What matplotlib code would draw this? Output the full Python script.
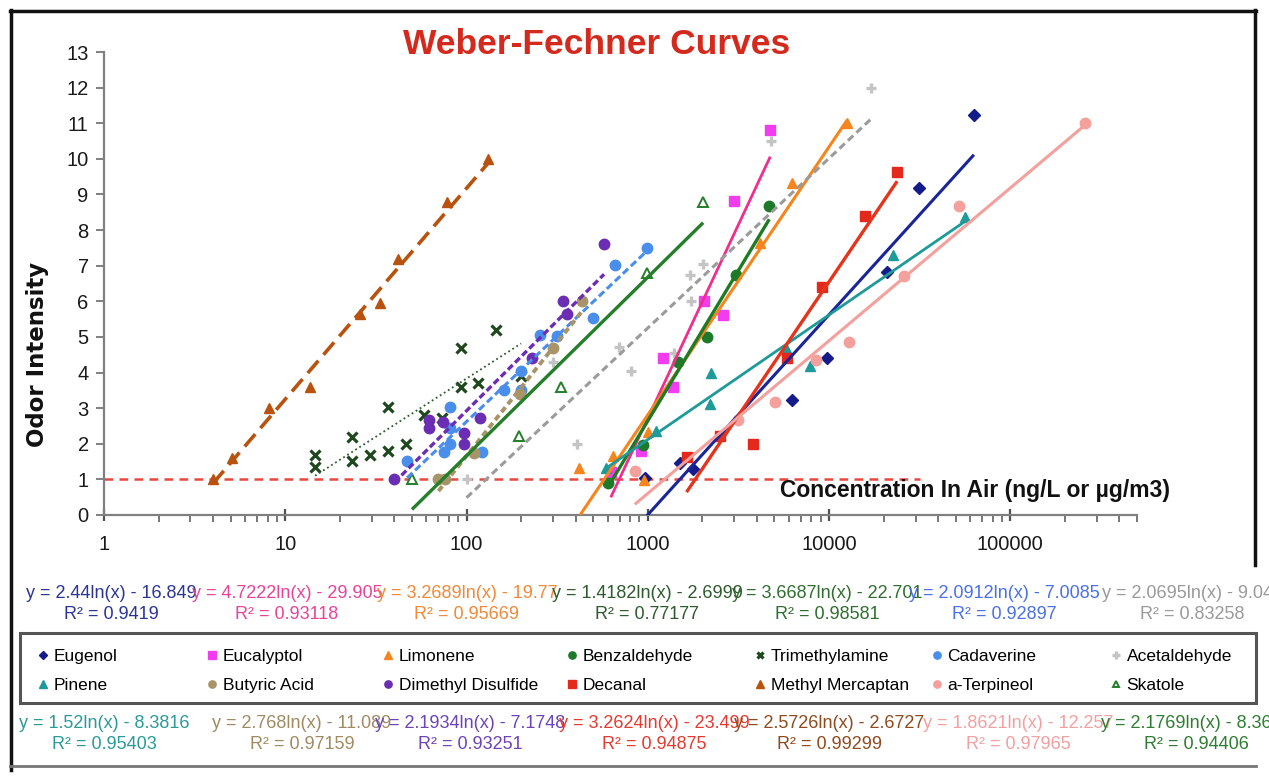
import numpy as np
import matplotlib
matplotlib.use('Agg')
import matplotlib.pyplot as plt
from matplotlib.lines import Line2D
from matplotlib.patches import Rectangle
from matplotlib.ticker import NullFormatter, LogLocator

plt.rcParams['font.family'] = ['Liberation Sans', 'DejaVu Sans']

W, H = 1269, 783

# ---- data (concentration, odor intensity) ----
eugenol_x = [962, 1510, 1766, 6220, 9750, 20830, 31550, 63000]
eugenol_y = [1.03, 1.47, 1.29, 3.23, 4.42, 6.81, 9.19, 11.24]
eucalyptol_x = [625, 915, 1220, 1380, 2030, 2590, 3000, 4740]
eucalyptol_y = [1.2, 1.8, 4.42, 3.6, 6.0, 5.62, 8.82, 10.8]
limonene_x = [417, 646, 955, 1009, 4170, 6220, 12590]
limonene_y = [1.33, 1.66, 0.98, 2.34, 7.63, 9.33, 11.0]
benzaldehyde_x = [604, 946, 1460, 2118, 3060, 4680]
benzaldehyde_y = [0.9, 1.97, 4.3, 5.0, 6.74, 8.68]
trimethylamine_x = [14.6, 14.6, 23.2, 23.2, 29.2, 36.7, 36.7, 46.4, 58.1, 73.4, 92.7, 92.7, 115, 146, 200]
trimethylamine_y = [1.69, 1.36, 2.2, 1.52, 1.69, 3.04, 1.81, 1.99, 2.81, 2.72, 4.68, 3.59, 3.7, 5.2, 3.9]
cadaverine_x = [47, 75, 81, 81, 81, 122, 162, 199, 200, 254, 317, 501, 660, 996]
cadaverine_y = [1.53, 1.76, 2.0, 2.44, 3.02, 1.76, 3.5, 3.5, 4.03, 5.05, 5.03, 5.52, 7.03, 7.5]
acetaldehyde_x = [100, 301, 409, 694, 805, 1400, 1700, 1730, 2005, 4800, 17000]
acetaldehyde_y = [1.0, 4.3, 2.0, 4.73, 4.03, 4.55, 6.74, 6.0, 7.05, 10.5, 12.0]
pinene_x = [586, 1107, 2200, 2230, 5800, 7890, 22500, 56000]
pinene_y = [1.31, 2.36, 3.12, 4.0, 4.7, 4.19, 7.3, 8.36]
butyric_x = [70, 76, 110, 197, 300, 436]
butyric_y = [1.0, 1.02, 1.73, 3.4, 4.7, 6.0]
dimethyl_x = [40, 62, 62, 74, 97, 97, 118, 231, 342, 360, 574]
dimethyl_y = [1.0, 2.67, 2.43, 2.62, 2.29, 1.99, 2.72, 4.4, 6.0, 5.65, 7.6]
decanal_x = [1636, 2500, 3790, 5860, 9120, 15850, 23760]
decanal_y = [1.64, 2.22, 2.0, 4.4, 6.41, 8.4, 9.63]
methyl_x = [4, 5.1, 8.1, 13.7, 26, 33.5, 42, 78, 132]
methyl_y = [1.0, 1.6, 3.0, 3.6, 5.65, 5.95, 7.2, 8.8, 10.0]
terpineol_x = [848, 3130, 5030, 8480, 12950, 25860, 52100, 257000]
terpineol_y = [1.24, 2.67, 3.18, 4.35, 4.87, 6.71, 8.68, 11.0]
skatole_x = [50, 196, 331, 996, 2020]
skatole_y = [1.0, 2.23, 3.6, 6.8, 8.8]

threshold_x = [1, 31600]
threshold_y = [1, 1]

# trendline coefficients y = a*ln(x) + b and R^2 shown on the chart
slopes = {'Eugenol': 2.44, 'Eucalyptol': 4.7222, 'Limonene': 3.2689, 'Benzaldehyde': 3.6687,
          'Trimethylamine': 1.4182, 'Cadaverine': 2.0912, 'Acetaldehyde': 2.0695, 'Pinene': 1.52,
          'Butyric Acid': 2.768, 'Dimethyl Disulfide': 2.1934, 'Decanal': 3.2624,
          'Methyl Mercaptan': 2.5726, 'a-Terpineol': 1.8621, 'Skatole': 2.1769}
intercepts = {'Eugenol': -16.849, 'Eucalyptol': -29.905, 'Limonene': -19.77, 'Benzaldehyde': -22.701,
              'Trimethylamine': -2.6999, 'Cadaverine': -7.0085, 'Acetaldehyde': -9.045, 'Pinene': -8.3816,
              'Butyric Acid': -11.089, 'Dimethyl Disulfide': -7.1748, 'Decanal': -23.499,
              'Methyl Mercaptan': -2.6727, 'a-Terpineol': -12.257, 'Skatole': -8.3608}
r_squared = {'Eugenol': 0.9419, 'Eucalyptol': 0.93118, 'Limonene': 0.95669, 'Benzaldehyde': 0.98581,
             'Trimethylamine': 0.77177, 'Cadaverine': 0.92897, 'Acetaldehyde': 0.83258, 'Pinene': 0.95403,
             'Butyric Acid': 0.97159, 'Dimethyl Disulfide': 0.93251, 'Decanal': 0.94875,
             'Methyl Mercaptan': 0.99299, 'a-Terpineol': 0.97965, 'Skatole': 0.94406}

eq_row_top = ['Eugenol', 'Eucalyptol', 'Limonene', 'Trimethylamine', 'Benzaldehyde', 'Cadaverine', 'Acetaldehyde']
eq_row_bottom = ['Pinene', 'Butyric Acid', 'Dimethyl Disulfide', 'Decanal', 'Methyl Mercaptan', 'a-Terpineol', 'Skatole']
legend_row1 = ['Eugenol', 'Eucalyptol', 'Limonene', 'Benzaldehyde', 'Trimethylamine', 'Cadaverine', 'Acetaldehyde']
legend_row2 = ['Pinene', 'Butyric Acid', 'Dimethyl Disulfide', 'Decanal', 'Methyl Mercaptan', 'a-Terpineol', 'Skatole']
x_ticks = [1, 10, 100, 1000, 10000, 100000]
x_ticklabels = ['1', '10', '100', '1000', '10000', '100000']

# name: (x, y, marker, marker colour, line colour, line style, line width, eq text colour)
series = {
    'Eugenol': (eugenol_x, eugenol_y, 'D', '#141c8a', '#1a2598', '-', 2.2, '#2a3596'),
    'Eucalyptol': (eucalyptol_x, eucalyptol_y, 's', '#f23cf0', '#ee2f8e', '-', 2.0, '#e8449a'),
    'Limonene': (limonene_x, limonene_y, '^', '#f5851c', '#f5851c', '-', 2.2, '#f08a3a'),
    'Benzaldehyde': (benzaldehyde_x, benzaldehyde_y, 'o', '#1d7a2a', '#1f7a24', '-', 2.4, '#2f6e2f'),
    'Trimethylamine': (trimethylamine_x, trimethylamine_y, 'x', '#20481f', '#2c5a2c', ':', 1.3, '#2e5a2e'),
    'Cadaverine': (cadaverine_x, cadaverine_y, 'o', '#4a8eec', '#4a8eec', (0, (2.4, 1.2)), 2.2, '#4a70e6'),
    'Acetaldehyde': (acetaldehyde_x, acetaldehyde_y, 'P', '#c4c4c4', '#9b9b9b', (0, (2.4, 1.4)), 2.2, '#9a9a9a'),
    'Pinene': (pinene_x, pinene_y, '^', '#1e9a98', '#1e9a98', '-', 2.0, '#2b9a98'),
    'Butyric Acid': (butyric_x, butyric_y, 'o', '#a89468', '#a89468', (0, (1.6, 1.0)), 2.8, '#a08a62'),
    'Dimethyl Disulfide': (dimethyl_x, dimethyl_y, 'o', '#6a2db4', '#6a2db4', (0, (2.0, 1.0)), 2.4, '#6c44b8'),
    'Decanal': (decanal_x, decanal_y, 's', '#e5281c', '#e5341c', '-', 2.4, '#e53a30'),
    'Methyl Mercaptan': (methyl_x, methyl_y, '^', '#b8520e', '#b8520e', (0, (4.5, 2.2)), 2.6, '#8f4a1e'),
    'a-Terpineol': (terpineol_x, terpineol_y, 'o', '#f4a09c', '#f4a09c', '-', 2.2, '#f2a0a0'),
    'Skatole': (skatole_x, skatole_y, '^', 'none', '#257f2a', '-', 2.4, '#2e7d32'),
}

fig = plt.figure(figsize=(W / 100, H / 100), dpi=100)
ax = fig.add_axes([104 / W, 1 - 515 / H, (1137 - 104) / W, (515 - 52) / H])

handles = {}
for name, (xs, ys, mk, mc, lc, ls, lw, tc) in series.items():
    if mk == 'x':
        h, = ax.plot(xs, ys, ls='none', marker='x', ms=7, mew=2.3, color=mc, zorder=2)
    elif name == 'Skatole':
        h, = ax.plot(xs, ys, ls='none', marker='^', ms=7, mew=1.4, mfc='white', mec=lc, zorder=2)
    elif mk == 'P':
        h, = ax.plot(xs, ys, ls='none', marker='+', ms=7.5, mew=2.4, color=mc, zorder=2)
    else:
        ms = 6 if mk == 'D' else 7.5
        h, = ax.plot(xs, ys, ls='none', marker=mk, ms=ms, color=mc, mec=mc, zorder=2)
    handles[name] = h
    # logarithmic trendline over the data range
    tx = np.array([min(xs), max(xs)], dtype=float)
    ty = slopes[name] * np.log(tx) + intercepts[name]
    ax.plot(tx, ty, ls=ls, lw=lw, color=lc, zorder=3, solid_capstyle='butt')

ax.plot(threshold_x, threshold_y, ls=(0, (3.5, 2.5)), lw=1.8, color='#e8483e', zorder=1)

ax.set_xscale('log')
ax.set_xlim(1, 500000)
ax.set_ylim(0, 13)
ax.set_xticks(x_ticks)
ax.set_xticklabels(x_ticklabels)
ax.xaxis.set_minor_locator(LogLocator(base=10, subs=np.arange(2, 10)))
ax.xaxis.set_minor_formatter(NullFormatter())
ax.set_yticks(range(0, 14))
for s in ['top', 'right']:
    ax.spines[s].set_visible(False)
for s in ['left', 'bottom']:
    ax.spines[s].set_color('#808080')
    ax.spines[s].set_linewidth(1.6)
ax.tick_params(axis='x', which='major', direction='inout', length=9, width=1.6, color='#505050',
               labelsize=14.5, pad=10, labelcolor='#1a1a1a')
ax.tick_params(axis='x', which='minor', direction='out', length=5, width=1.2, color='#606060')
ax.tick_params(axis='y', direction='out', length=6, width=1.4, color='#808080',
               labelsize=14.5, pad=5, labelcolor='#1a1a1a')

fig.text(597 / W, 1 - 45 / H, 'Weber-Fechner Curves', color='#d42a1e', fontsize=25.5,
         fontweight='bold', ha='center', va='center')
fig.text(38 / W, 1 - 354 / H, 'Odor Intensity', rotation=90, fontsize=16.5, fontweight='bold',
         family='DejaVu Sans', ha='center', va='center', color='#111111')
fig.text(780 / W, 1 - 490 / H, 'Concentration In Air (ng/L or µg/m3)', fontsize=16.5,
         fontweight='bold', ha='left', va='center', color='#111111')

# trendline equations
top_centers = [111, 287, 467, 647, 827, 1004, 1192]
bottom_centers = [104, 302, 470, 654, 829, 1018, 1196]
for names_row, centers, yc in [(eq_row_top, top_centers, 604), (eq_row_bottom, bottom_centers, 734)]:
    for name, xc in zip(names_row, centers):
        a, b = slopes[name], intercepts[name]
        txt = f'y = {a}ln(x) - {-b}\nR² = {r_squared[name]}'
        fig.text(xc / W, 1 - yc / H, txt, ha='center', va='center', ma='center', fontsize=13,
                 linespacing=1.3, color=series[name][7])

# legend: one column per legend entry pair, placed like the original's columns
col_text_left = [52, 221, 397, 581, 769, 946, 1125]
for n1, n2, xl in zip(legend_row1, legend_row2, col_text_left):
    fig.legend([handles[n1], handles[n2]], [n1, n2], loc='center left',
               bbox_to_anchor=((xl - 14) / W, 1 - 671 / H), frameon=False, fontsize=12.5,
               markerscale=0.7, handlelength=0.6, handletextpad=0.3, labelspacing=0.8,
               borderpad=0, borderaxespad=0)
fig.add_artist(Rectangle((20 / W, 1 - 703 / H), (1256 - 20) / W, 70 / H, fill=False,
                         edgecolor='#555555', lw=2.2, transform=fig.transFigure))

# outer frame lines
fig.add_artist(Line2D([11 / W, 11 / W], [1 - 10 / H, 1 - 770 / H], color='#111111', lw=2.5))
fig.add_artist(Line2D([10 / W, 1256 / W], [1 - 11 / H, 1 - 11 / H], color='#111111', lw=2.5))
fig.add_artist(Line2D([1255 / W, 1255 / W], [1 - 10 / H, 1 - 565 / H], color='#111111', lw=2.5))
fig.add_artist(Line2D([10 / W, 1256 / W], [1 - 766 / H, 1 - 766 / H], color='#777777', lw=2.0))

fig.savefig('out.png', dpi=100, facecolor='white')
